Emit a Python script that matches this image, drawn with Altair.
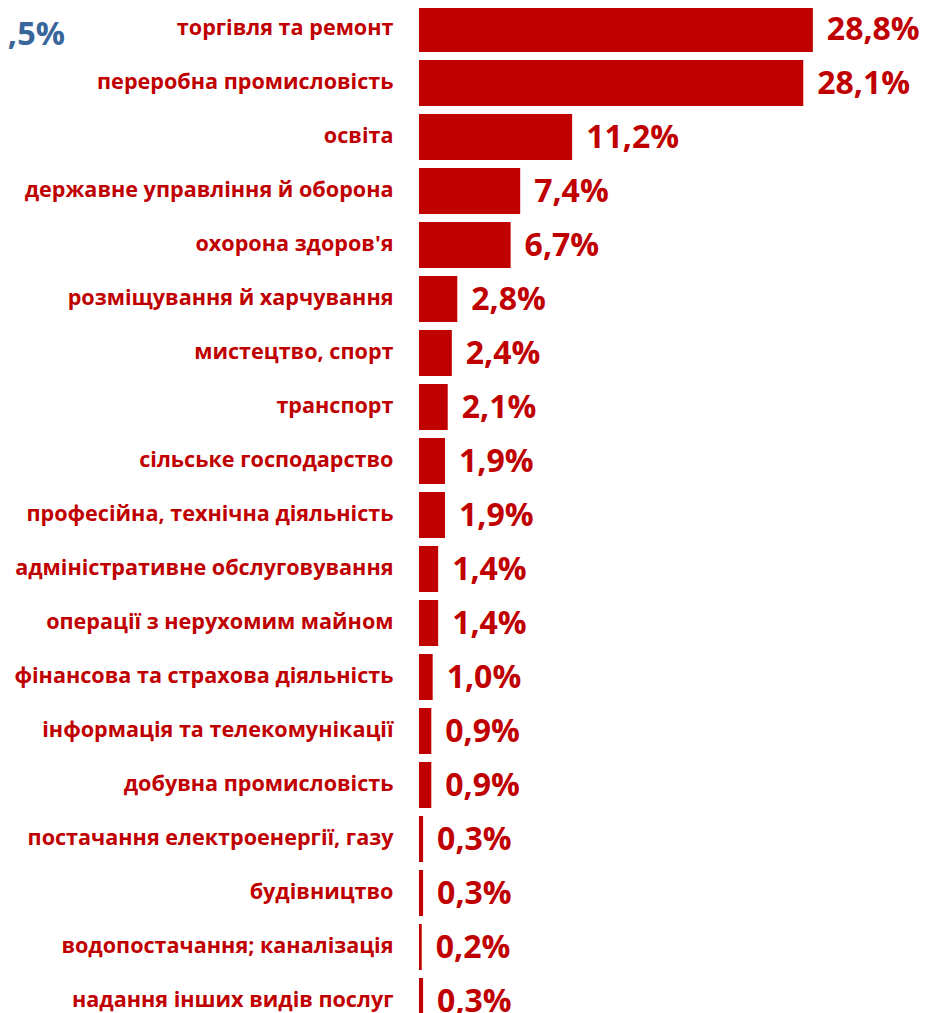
import altair as alt
import pandas as pd

categories = [
    "торгівля та ремонт",
    "переробна промисловість",
    "освіта",
    "державне управління й оборона",
    "охорона здоров'я",
    "розміщування й харчування",
    "мистецтво, спорт",
    "транспорт",
    "сільське господарство",
    "професійна, технічна діяльність",
    "адміністративне обслуговування",
    "операції з нерухомим майном",
    "фінансова та страхова діяльність",
    "інформація та телекомунікації",
    "добувна промисловість",
    "постачання електроенергії, газу",
    "будівництво",
    "водопостачання; каналізація",
    "надання інших видів послуг",
]
values = [28.8, 28.1, 11.2, 7.4, 6.7, 2.8, 2.4, 2.1, 1.9, 1.9, 1.4, 1.4, 1.0, 0.9, 0.9, 0.3, 0.3, 0.2, 0.3]
labels = ["28,8%", "28,1%", "11,2%", "7,4%", "6,7%", "2,8%", "2,4%", "2,1%", "1,9%", "1,9%",
          "1,4%", "1,4%", "1,0%", "0,9%", "0,9%", "0,3%", "0,3%", "0,2%", "0,3%"]
side_note = [",5%"]

df = pd.DataFrame({"cat": categories, "val": values, "lab": labels})

RED = "#C00000"
FONT = "Open Sans"

y = alt.Y("cat:N", sort=categories, title=None,
          scale=alt.Scale(paddingInner=0.148, paddingOuter=0.074),
          axis=alt.Axis(domain=False, ticks=False, labelPadding=26, labelLimit=500,
                        labelFont=FONT, labelFontSize=21.6, labelFontWeight="bold",
                        labelColor=RED))
x = alt.X("val:Q", title=None, scale=alt.Scale(domain=[0, 35.1], nice=False), axis=None)

bars = alt.Chart(df).mark_bar(color=RED).encode(x=x, y=y)
texts = alt.Chart(df).mark_text(align="left", baseline="middle", dx=14, dy=1, font=FONT,
                                fontSize=32, fontWeight="bold", color=RED).encode(
    x=x, y=y, text="lab:N")

deco_txt = alt.Chart(pd.DataFrame({"t": side_note})).mark_text(
    align="right", baseline="middle", font=FONT, fontSize=32.5, fontWeight="bold",
    color="#3A679B").encode(x=alt.value(-354), y=alt.value(33), text="t:N")

chart = alt.layer(bars, texts, deco_txt).properties(
    width=480, height=1026,
    autosize=alt.AutoSizeParams(type="none"),
    padding={"left": 411, "top": -6, "right": 22, "bottom": -15},
).configure(background="white").configure_view(strokeWidth=0, strokeOpacity=0, clip=False)

chart.save("out.html", embed_options={"renderer": "svg", "actions": False})
